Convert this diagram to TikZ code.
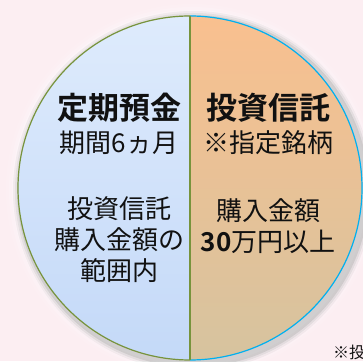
\documentclass[tikz,border=0pt]{standalone}
\usepackage{fontspec}
\setmainfont{Noto Sans CJK JP}[BoldFont={Noto Sans CJK JP Bold}]
\usetikzlibrary{positioning}
\definecolor{bg_pink}    {HTML}{FCEEF2}
\definecolor{half_green} {HTML}{77933C}
\definecolor{half_cyan}  {HTML}{00B0F0}
\definecolor{blue_top}   {HTML}{DEEBFC}
\definecolor{blue_bot}   {HTML}{C4D9F8}
\definecolor{peach_top}  {HTML}{F9C08F}
\definecolor{peach_mid}  {HTML}{FBD2B0}
\definecolor{peach_bot}  {HTML}{D6C39F}
\definecolor{ink}        {HTML}{111111}

\begin{document}
\begin{tikzpicture}[x=1pt,y=1pt,
  label/.style={text=ink,font=\fontsize{26}{31}\selectfont,align=center,inner sep=0pt},
  title/.style={label,font=\fontsize{31}{31}\selectfont\bfseries}]
\useasboundingbox (0,0) rectangle (363,361);
\fill[bg_pink] (0,0) rectangle (363,361);
% soft halo round the circle
\foreach \r/\o in {186/0.10,183/0.18,180/0.28,177/0.45,175/0.7}
  \fill[white,opacity=\o] (192,171) circle[radius=\r pt];
\foreach \r/\o in {180/0.04,178/0.06,176/0.09}
  \fill[black,opacity=\o] (193,170) circle[radius=\r pt];
% the two halves
\shade[top color=blue_top,bottom color=blue_bot]
  (190,345) arc[start angle=90,end angle=270,radius=172pt] -- cycle;
\shade[top color=peach_top,middle color=peach_mid,bottom color=peach_bot]
  (190,345) arc[start angle=90,end angle=-90,radius=172pt] -- cycle;
\draw[half_green,line width=1.2pt]
  (190,345) arc[start angle=90,end angle=270,radius=172pt];
\draw[half_cyan,line width=1.2pt]
  (190,345) arc[start angle=90,end angle=-90,radius=172pt];
\draw[half_green,line width=1.2pt] (190,345) -- (190,1);
% left half
\node[title] (deposit) at (119,253) {定期預金};
\node[label] (term) at (119,218) {期間6ヵ月};
\node[label] (range) at (119,121) {投資信託\\購入金額の\\範囲内};
% right half
\node[title] (fund) at (268,253) {投資信託};
\node[label] (brand) at (268,218) {※指定銘柄};
\node[label] (amount) at (268,135) {購入金額\\{\bfseries 30}万円以上};
\node[text=ink,font=\fontsize{16}{18}\selectfont,anchor=west,inner sep=0pt] (note) at (333,9) {※投};
\end{tikzpicture}
\end{document}
